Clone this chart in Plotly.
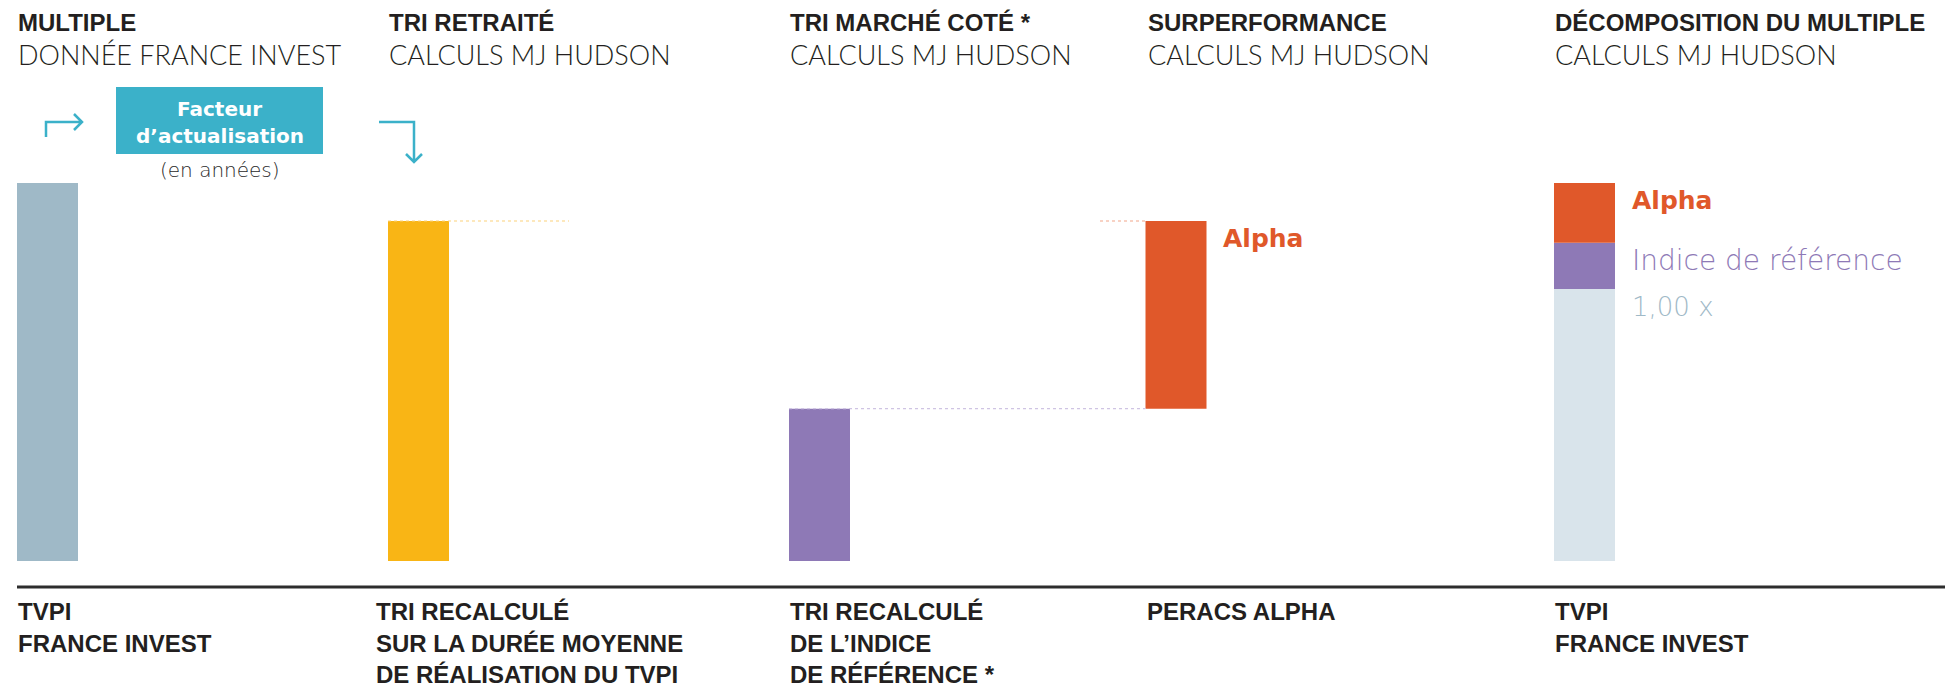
import plotly.graph_objects as go
import numpy as np

# ---------------- data ----------------
categories = ["TVPI France Invest", "TRI retraité", "TRI marché coté", "PERACS Alpha", "Décomposition du multiple"]
tvpi_multiple = [1.39]
tri_retraite = [1.25]
tri_marche_cote = [0.56]
alpha_base = [0.56]
alpha_value = [0.69]
decomp_parts = ["1,00 x", "Indice de référence", "Alpha"]
decomp_values = [1.00, 0.17, 0.22]

header_titles = ["MULTIPLE", "TRI RETRAITÉ", "TRI MARCHÉ COTÉ *", "SURPERFORMANCE", "DÉCOMPOSITION DU MULTIPLE"]
header_sources = ["DONNÉE FRANCE INVEST", "CALCULS MJ HUDSON", "CALCULS MJ HUDSON", "CALCULS MJ HUDSON", "CALCULS MJ HUDSON"]
bottom_labels = [
    ["TVPI", "FRANCE INVEST"],
    ["TRI RECALCULÉ", "SUR LA DURÉE MOYENNE", "DE RÉALISATION DU TVPI"],
    ["TRI RECALCULÉ", "DE L’INDICE", "DE RÉFÉRENCE *"],
    ["PERACS ALPHA"],
    ["TVPI", "FRANCE INVEST"],
]
box_lines = ["Facteur", "d’actualisation"]
box_note = "(en années)"
alpha_label = "Alpha"

# ---------------- layout constants ----------------
W, H = 1945, 689
BASE_PX = 561.0      # pixel row of the zero line
UNIT_PX = 272.0      # pixels per 1.00 x
bar_x = [47.5, 418.5, 819.5, 1176.0, 1584.5]
bar_w = 61
header_x = [17, 388, 789, 1147, 1554]
bottom_x = [17, 375, 789, 1146, 1554]

C_GREY = "#9fb9c7"
C_YELLOW = "#f9b515"
C_PURPLE = "#8e79b6"
C_ORANGE = "#e0582a"
C_LIGHT = "#d9e4eb"
C_TEAL = "#3bb1c9"
C_TEXT = "#231f20"

BOLD_COND = "Liberation Sans, Arial, sans-serif"
LIGHT = "Lato, sans-serif"
GOTHIC = "DejaVu Sans, sans-serif"


def px(xp):
    return xp / W


def py(yp):
    return 1 - yp / H


fig = go.Figure()

# bars
fig.add_bar(x=[bar_x[0]], y=tvpi_multiple, width=bar_w, marker_color=C_GREY, name=categories[0])
fig.add_bar(x=[bar_x[1]], y=tri_retraite, width=bar_w, marker_color=C_YELLOW, name=categories[1])
fig.add_bar(x=[bar_x[2]], y=tri_marche_cote, width=bar_w, marker_color=C_PURPLE, name=categories[2])
fig.add_bar(x=[bar_x[3]], y=alpha_value, base=alpha_base, width=bar_w, marker_color=C_ORANGE, name=categories[3])
bases = np.concatenate([[0], np.cumsum(decomp_values)[:-1]])
for part, val, b, col in zip(decomp_parts, decomp_values, bases, [C_LIGHT, C_PURPLE, C_ORANGE]):
    fig.add_bar(x=[bar_x[4]], y=[val], base=[b], width=bar_w, marker_color=col, name=part)

for tr in fig.data:
    tr.marker.line.width = 0

shapes = []
# connectors (dotted)
top_alpha = alpha_base[0] + alpha_value[0]
shapes.append(dict(type="line", xref="x", yref="y", x0=bar_x[1] - bar_w / 2, x1=569,
                   y0=tri_retraite[0], y1=tri_retraite[0],
                   line=dict(color="#fbd27a", width=1.2, dash="dot")))
shapes.append(dict(type="line", xref="x", yref="y", x0=bar_x[2] - bar_w / 2, x1=bar_x[3] - bar_w / 2,
                   y0=tri_marche_cote[0], y1=tri_marche_cote[0],
                   line=dict(color="#cfc4e3", width=1.2, dash="dot")))
shapes.append(dict(type="line", xref="x", yref="y", x0=1100, x1=bar_x[3] - bar_w / 2,
                   y0=top_alpha, y1=top_alpha,
                   line=dict(color="#f2a58a", width=1.2, dash="dot")))
# baseline rule
shapes.append(dict(type="line", xref="paper", yref="paper", x0=px(17), x1=1, y0=py(587), y1=py(587),
                   line=dict(color="#2d2d2d", width=3)))
# teal box
shapes.append(dict(type="rect", xref="paper", yref="paper", x0=px(116), x1=px(323), y0=py(154), y1=py(87),
                   fillcolor=C_TEAL, line=dict(width=0)))


def P(xp, yp):
    return f"{xp},{py(yp):.5f}"


left_arrow = (f"M {P(46,137)} L {P(46,122)} L {P(82,122)} "
              f"M {P(74,114)} L {P(82,122)} L {P(74,130)}")
right_arrow = (f"M {P(379,122)} L {P(414,122)} L {P(414,162)} "
               f"M {P(406,154)} L {P(414,162)} L {P(422,154)}")
for pth in (left_arrow, right_arrow):
    shapes.append(dict(type="path", xref="x", yref="paper", path=pth,
                       line=dict(color=C_TEAL, width=2.5)))

ann = []


def text(t, xp, yp, size, family, color=C_TEXT, xanchor="left", weight=None):
    f = dict(size=size, family=family, color=color)
    if weight is not None:
        f["weight"] = weight
    ann.append(dict(text=t, xref="paper", yref="paper", x=px(xp), y=py(yp), xanchor=xanchor,
                    yanchor="middle", showarrow=False, font=f, borderpad=0))


for xh, t, s in zip(header_x, header_titles, header_sources):
    text(f"<b>{t}</b>", xh, 22, 24, BOLD_COND)
    text(s, xh, 54, 27, LIGHT, weight=300)

line_y = [611, 643, 674]
for xb, lines in zip(bottom_x, bottom_labels):
    for ly, t in zip(line_y, lines):
        text(f"<b>{t}</b>", xb, ly, 24, BOLD_COND)

text(f"<b>{box_lines[0]}</b>", 219.5, 109, 20, GOTHIC, color="white", xanchor="center")
text(f"<b>{box_lines[1]}</b>", 219.5, 136, 20, GOTHIC, color="white", xanchor="center")
text(box_note, 219.5, 170, 20, GOTHIC, color="#2a2a2a", xanchor="center", weight=200)

text(f"<b>{alpha_label}</b>", 1222, 239, 25, GOTHIC, color=C_ORANGE)
text(f"<b>{decomp_parts[2]}</b>", 1631, 200, 25, GOTHIC, color=C_ORANGE)
text(decomp_parts[1], 1631, 260, 28, GOTHIC, color=C_PURPLE, weight=200)
text(decomp_parts[0], 1631, 307, 26, GOTHIC, color=C_GREY, weight=200)

fig.update_layout(
    width=W, height=H,
    margin=dict(l=0, r=0, t=0, b=0),
    paper_bgcolor="white", plot_bgcolor="white",
    barmode="overlay", showlegend=False,
    xaxis=dict(range=[0, W], visible=False, fixedrange=True),
    yaxis=dict(range=[-(H - BASE_PX) / UNIT_PX, BASE_PX / UNIT_PX], visible=False, fixedrange=True),
    shapes=shapes, annotations=ann,
)

fig.write_html("out.html", config={"displayModeBar": False},
               post_script="document.body.style.margin='0';document.body.style.overflow='hidden';")
